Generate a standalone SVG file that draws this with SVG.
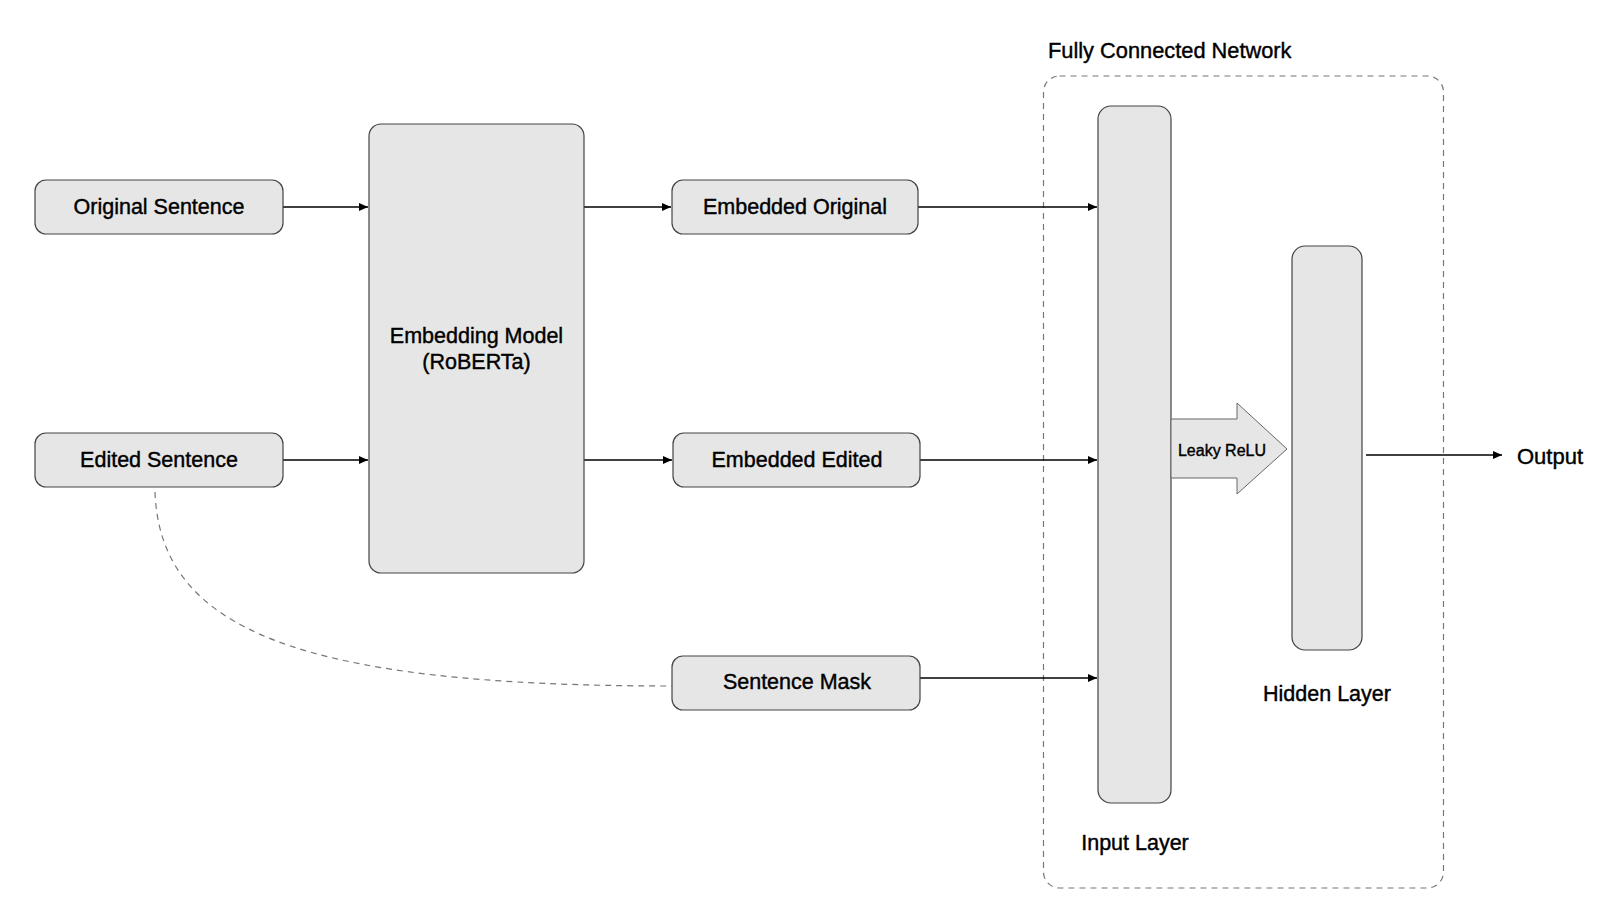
<svg xmlns="http://www.w3.org/2000/svg" width="1600" height="902" viewBox="0 0 1600 902">
<defs>
<marker id="ah" markerWidth="10" markerHeight="8" refX="9" refY="4" orient="auto" markerUnits="userSpaceOnUse">
<path d="M0,0 L9,4 L0,8 Z" fill="#000"/>
</marker>
<style>
.box{fill:#e6e6e6;stroke:#444;stroke-width:1.2}
.t{font-family:"Liberation Sans",Arial,sans-serif;fill:#000;stroke:#000;stroke-width:0.4;dominant-baseline:central}
.lbl{font-size:21.5px;text-anchor:middle}
.conn{stroke:#000;stroke-width:1.3;fill:none;marker-end:url(#ah)}
</style>
</defs>
<rect width="1600" height="902" fill="#fff"/>
<g id="fcn">
<rect x="1043.5" y="76" width="400" height="812" rx="16" fill="none" stroke="#777" stroke-width="1.2" stroke-dasharray="6,5"/>
<text class="t" x="1048" y="50" font-size="21.8">Fully Connected Network</text>
</g>
<g id="connectors">
<line class="conn" x1="283" y1="207" x2="368" y2="207"/>
<line class="conn" x1="283" y1="460" x2="368" y2="460"/>
<line class="conn" x1="584" y1="207" x2="671" y2="207"/>
<line class="conn" x1="584" y1="460" x2="672" y2="460"/>
<line class="conn" x1="918" y1="207" x2="1097" y2="207"/>
<line class="conn" x1="920" y1="460" x2="1097" y2="460"/>
<line class="conn" x1="920" y1="678" x2="1097" y2="678"/>
<line class="conn" x1="1366" y1="455" x2="1502" y2="455"/>
<path d="M155,492 C160,630 300,686 672,686" fill="none" stroke="#777" stroke-width="1.2" stroke-dasharray="6,5"/>
</g>
<g id="original-sentence">
<rect class="box" x="35" y="180" width="248" height="54" rx="11"/>
<text class="t lbl" x="159" y="207">Original Sentence</text>
</g>
<g id="edited-sentence">
<rect class="box" x="35" y="433" width="248" height="54" rx="11"/>
<text class="t lbl" x="159" y="460">Edited Sentence</text>
</g>
<g id="embedding-model">
<rect class="box" x="369" y="124" width="215" height="449" rx="12"/>
<text class="t lbl" x="476.5" y="336">Embedding Model</text>
<text class="t lbl" x="476.5" y="362">(RoBERTa)</text>
</g>
<g id="embedded-original">
<rect class="box" x="672" y="180" width="246" height="54" rx="11"/>
<text class="t lbl" x="795" y="207">Embedded Original</text>
</g>
<g id="embedded-edited">
<rect class="box" x="673" y="433" width="247" height="54" rx="11"/>
<text class="t lbl" x="797" y="460">Embedded Edited</text>
</g>
<g id="sentence-mask">
<rect class="box" x="672" y="656" width="248" height="54" rx="11"/>
<text class="t lbl" x="797" y="682">Sentence Mask</text>
</g>
<g id="input-layer">
<rect class="box" x="1098" y="106" width="73" height="697" rx="13"/>
<text class="t lbl" x="1135" y="843">Input Layer</text>
</g>
<g id="leaky-relu">
<polygon points="1171,419 1237,419 1237,403 1287,449 1237,494 1237,478 1171,478" fill="#e6e6e6" stroke="#666" stroke-width="1"/>
<text class="t" x="1222" y="450" font-size="16" text-anchor="middle" stroke-width="0.3">Leaky ReLU</text>
</g>
<g id="hidden-layer">
<rect class="box" x="1292" y="246" width="70" height="404" rx="13"/>
<text class="t lbl" x="1327" y="694">Hidden Layer</text>
</g>
<g id="output">
<text class="t" x="1517" y="456" font-size="22">Output</text>
</g>
</svg>
